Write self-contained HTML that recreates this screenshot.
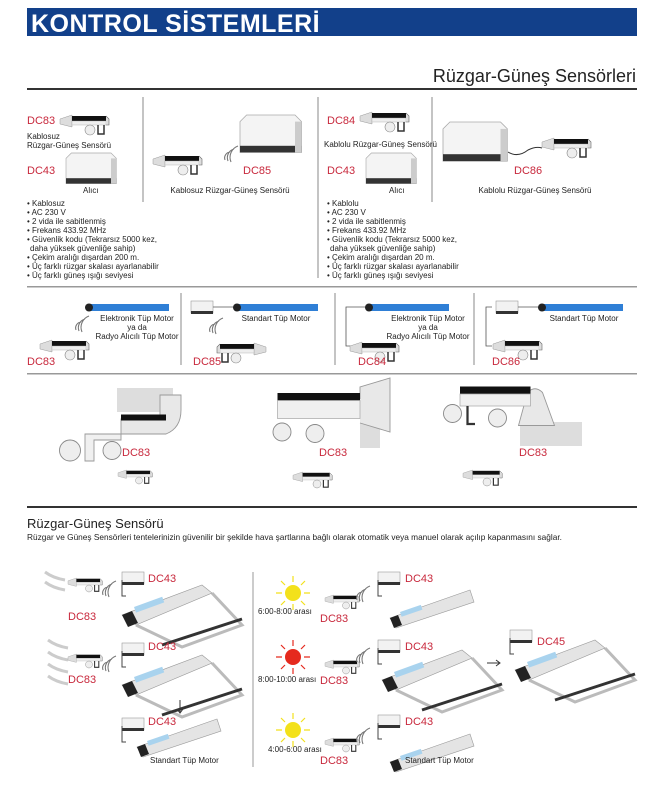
<!DOCTYPE html>
<html><head><meta charset="utf-8"><style>
body{margin:0;background:#fff}
svg{display:block}
text{font-family:"Liberation Sans",sans-serif}
.r{fill:#c8283c;font-size:11px}
.s{font-size:8px;fill:#222}
</style></head><body>
<svg width="662" height="798" viewBox="0 0 662 798" xmlns="http://www.w3.org/2000/svg">
<defs>
<g id="sen"><path d="M0,4 L12,0 L12,12 L0,9Z" fill="#ddd" stroke="#999" stroke-width=".5"/><rect x="12" y="1" width="34" height="5" fill="#111"/><rect x="12" y="6" width="34" height="4" fill="#eee" stroke="#aaa" stroke-width=".4"/><circle cx="30" cy="15" r="5" fill="#eee" stroke="#888" stroke-width=".6"/><path d="M38,10 v9 h6 v-9" fill="none" stroke="#333" stroke-width="1.5"/><path d="M46,1 l3,3 v6 h-3" fill="#ddd" stroke="#666" stroke-width=".6"/></g>
<g id="box"><path d="M0,6 L6,0 H50 L56,6 V34 H0Z" fill="#f4f4f4" stroke="#aaa" stroke-width=".7"/><rect x="0" y="28" width="56" height="6" fill="#333"/><rect x="50" y="6" width="6" height="28" fill="#ccc"/></g>
<g id="sbox"><rect x="0" y="0" width="22" height="12" fill="#f2f2f2" stroke="#999" stroke-width=".6"/><rect x="0" y="10" width="22" height="3" fill="#333"/></g>
<g id="wave"><path d="M0,10 a6,6 0 0 1 5,-8 M3,11 a9,9 0 0 1 6,-12 M6,12 a12,12 0 0 1 7,-16" fill="none" stroke="#777" stroke-width="1.1"/></g>
<g id="awn"><path d="M0,30 L80,0 L90,8 L14,40Z" fill="#e4e4e4" stroke="#999" stroke-width=".6"/><rect x="12" y="22" width="30" height="6" fill="#a9d3ee" transform="rotate(-20 12 22)"/><path d="M0,30 l10,-4 l6,12 l-10,4z" fill="#222"/><path d="M14,40 L60,62 L120,40 L90,8" fill="none" stroke="#bbb" stroke-width="3"/><path d="M40,60 L120,34" stroke="#333" stroke-width="3"/></g>
<g id="sun"><circle r="8" fill="currentColor"/><g stroke="currentColor" stroke-width="1.2"><path d="M0,-11v-6M0,11v6M-11,0h-6M11,0h6M8,-8l4,-4M-8,-8l-4,-4M8,8l4,4M-8,8l-4,4"/></g></g>
</defs>
<rect x="27" y="8" width="610" height="28" fill="#12408a"/>
<text x="31" y="32" fill="#fff" font-size="25" font-weight="bold" letter-spacing="0.5">KONTROL SİSTEMLERİ</text>
<text x="636" y="82" text-anchor="end" font-size="18" fill="#222">Rüzgar-Güneş Sensörleri</text>
<rect x="27" y="88" width="610" height="2" fill="#333"/>
<g stroke="#888" stroke-width="1"><path d="M143,97V202M318,97V278M432,97V202"/></g>
<use href="#sen" x="60" y="115"/>
<text class="r" x="27" y="124">DC83</text>
<text class="s" x="27" y="139">Kablosuz</text><text class="s" x="27" y="148">Rüzgar-Güneş Sensörü</text>
<g transform="translate(66 153) scale(.9)"><use href="#box"/></g>
<text class="r" x="27" y="174">DC43</text>
<text class="s" x="83" y="193">Alıcı</text>
<text class="s" x="27" y="206">• Kablosuz</text><text class="s" x="27" y="215">• AC 230 V</text><text class="s" x="27" y="224">• 2 vida ile sabitlenmiş</text><text class="s" x="27" y="233">• Frekans 433.92 MHz</text><text class="s" x="27" y="242">• Güvenlik kodu (Tekrarsız 5000 kez,</text><text class="s" x="30" y="251">daha yüksek güvenliğe sahip)</text><text class="s" x="27" y="260">• Çekim aralığı dışardan 200 m.</text><text class="s" x="27" y="269">• Üç farklı rüzgar skalası ayarlanabilir</text><text class="s" x="27" y="278">• Üç farklı güneş ışığı seviyesi</text>
<use href="#sen" x="153" y="155"/><use href="#wave" x="225" y="150"/>
<g transform="translate(240 115) scale(1.1)"><use href="#box"/></g>
<text class="r" x="243" y="174">DC85</text>
<text class="s" x="230" y="193" text-anchor="middle">Kablosuz Rüzgar-Güneş Sensörü</text>
<use href="#sen" x="360" y="112"/>
<text class="r" x="327" y="124">DC84</text>
<text class="s" x="324" y="147">Kablolu Rüzgar-Güneş Sensörü</text>
<g transform="translate(366 153) scale(.9)"><use href="#box"/></g>
<text class="r" x="327" y="174">DC43</text>
<text class="s" x="389" y="193">Alıcı</text>
<text class="s" x="327" y="206">• Kablolu</text><text class="s" x="327" y="215">• AC 230 V</text><text class="s" x="327" y="224">• 2 vida ile sabitlenmiş</text><text class="s" x="327" y="233">• Frekans 433.92 MHz</text><text class="s" x="327" y="242">• Güvenlik kodu (Tekrarsız 5000 kez,</text><text class="s" x="330" y="251">daha yüksek güvenliğe sahip)</text><text class="s" x="327" y="260">• Çekim aralığı dışardan 20 m.</text><text class="s" x="327" y="269">• Üç farklı rüzgar skalası ayarlanabilir</text><text class="s" x="327" y="278">• Üç farklı güneş ışığı seviyesi</text>
<g transform="translate(443 122) scale(1.15)"><use href="#box"/></g>
<path d="M508,152 q10,6 20,-2 q8,-4 14,-2" fill="none" stroke="#333"/>
<use href="#sen" x="542" y="138"/>
<text class="r" x="514" y="174">DC86</text>
<text class="s" x="535" y="193" text-anchor="middle">Kablolu Rüzgar-Güneş Sensörü</text>
<rect x="27" y="286" width="610" height="1.5" fill="#999"/>
<g stroke="#888"><path d="M181,293V365M335,293V365M474,293V365"/></g>
<g fill="#2f7fd6"><rect x="89" y="304" width="80" height="7"/><rect x="237" y="304" width="81" height="7"/><rect x="369" y="304" width="80" height="7"/><rect x="542" y="304" width="81" height="7"/></g>
<g fill="#222"><circle cx="89" cy="307.5" r="4"/><circle cx="237" cy="307.5" r="4"/><circle cx="369" cy="307.5" r="4"/><circle cx="542" cy="307.5" r="4"/></g>
<use href="#sbox" x="191" y="301"/><use href="#sbox" x="496" y="301"/>
<path d="M213,307H233M518,307H538M365,307H346V346H352M492,307H486V346H492" fill="none" stroke="#555" stroke-width=".8"/>
<use href="#sen" x="40" y="340"/><use href="#wave" x="76" y="320"/>
<g transform="translate(266 343) scale(-1 1)"><use href="#sen"/></g><use href="#wave" x="210" y="322"/>
<use href="#sen" x="350" y="342"/><use href="#sen" x="493" y="340"/>
<text class="s" x="137" y="321" text-anchor="middle">Elektronik Tüp Motor</text><text class="s" x="137" y="330" text-anchor="middle">ya da</text><text class="s" x="137" y="339" text-anchor="middle">Radyo Alıcılı Tüp Motor</text>
<text class="s" x="276" y="321" text-anchor="middle">Standart Tüp Motor</text>
<text class="s" x="428" y="321" text-anchor="middle">Elektronik Tüp Motor</text><text class="s" x="428" y="330" text-anchor="middle">ya da</text><text class="s" x="428" y="339" text-anchor="middle">Radyo Alıcılı Tüp Motor</text>
<text class="s" x="584" y="321" text-anchor="middle">Standart Tüp Motor</text>
<text class="r" x="27" y="365">DC83</text><text class="r" x="193" y="365">DC85</text><text class="r" x="358" y="365">DC84</text><text class="r" x="492" y="365">DC86</text>
<rect x="27" y="373" width="610" height="1.5" fill="#999"/>
<g fill="#ddd"><rect x="117" y="388" width="56" height="24"/><rect x="360" y="388" width="20" height="60"/><rect x="520" y="422" width="62" height="24"/></g>
<g transform="translate(55 395) scale(1.5)"><path d="M70,0 h14 v10 q0,12 -10,16 h-30 v-10 h26z" fill="#e8e8e8" stroke="#999" stroke-width=".6"/><rect x="44" y="13" width="30" height="4" fill="#111"/><circle cx="10" cy="37" r="7" fill="#eee" stroke="#888" stroke-width=".6"/><circle cx="38" cy="37" r="6" fill="#eee" stroke="#888" stroke-width=".6"/><path d="M20,26 h24 v4 h-18 v14 h-6z" fill="#f0f0f0" stroke="#999" stroke-width=".6"/></g>
<g transform="translate(270 390) scale(1.5)"><path d="M60,6 L60,-2 L80,-8 V28 L60,22" fill="#e8e8e8" stroke="#999" stroke-width=".6"/><rect x="5" y="2" width="55" height="5" fill="#111"/><rect x="5" y="7" width="55" height="12" fill="#f0f0f0" stroke="#aaa" stroke-width=".5"/><circle cx="30" cy="29" r="6" fill="#eee" stroke="#888" stroke-width=".6"/><circle cx="8" cy="28" r="6" fill="#eee" stroke="#888" stroke-width=".6"/></g>
<g transform="translate(445 385) scale(1.5)"><path d="M55,5 q5,-5 10,0 l8,22 h-24z" fill="#e8e8e8" stroke="#999" stroke-width=".6"/><rect x="10" y="1" width="47" height="5" fill="#111"/><rect x="10" y="6" width="47" height="8" fill="#f0f0f0" stroke="#aaa" stroke-width=".5"/><circle cx="35" cy="22" r="6" fill="#eee" stroke="#888" stroke-width=".6"/><circle cx="5" cy="19" r="6" fill="#eee" stroke="#888" stroke-width=".6"/><path d="M15,14 v12 h5" fill="none" stroke="#333" stroke-width="1.5"/></g>
<text class="r" x="122" y="456">DC83</text><text class="r" x="319" y="456">DC83</text><text class="r" x="519" y="456">DC83</text>
<g transform="translate(118 470) scale(.7)"><use href="#sen"/></g>
<g transform="translate(293 472) scale(.8)"><use href="#sen"/></g>
<g transform="translate(463 470) scale(.8)"><use href="#sen"/></g>
<rect x="27" y="506" width="610" height="2" fill="#333"/>
<text x="27" y="528" font-size="13" fill="#222">Rüzgar-Güneş Sensörü</text>
<text x="27" y="540" font-size="8.3" fill="#222">Rüzgar ve Güneş Sensörleri  tentelerinizin güvenilir bir şekilde hava şartlarına bağlı olarak otomatik veya manuel olarak açılıp kapanmasını sağlar.</text>
<path d="M253,572V767" stroke="#999"/>
<g fill="none" stroke="#ccc" stroke-width="3"><path d="M45,572 q8,6 20,8M45,582 q8,6 20,8M48,640 q8,6 20,8M48,652 q8,6 20,8M48,664 q8,6 20,8M48,676 q8,6 20,8"/></g>
<g transform="translate(68 578) scale(.7)"><use href="#sen"/></g><use href="#wave" x="103" y="585"/>
<g transform="translate(68 654) scale(.7)"><use href="#sen"/></g><use href="#wave" x="103" y="660"/>
<use href="#sbox" x="122" y="572"/><use href="#sbox" x="122" y="643"/><use href="#sbox" x="122" y="718"/>
<use href="#awn" x="122" y="585"/><use href="#awn" x="122" y="655"/>
<path d="M122,580v16h4M122,651v16h4M122,726v16h4" fill="none" stroke="#444"/>
<g transform="translate(137 727)"><path d="M0,20 L80,-8 L84,4 L6,30Z" fill="#e4e4e4" stroke="#999" stroke-width=".6"/><path d="M0,20 l8,-3 l4,10 l-8,3z" fill="#222"/><rect x="10" y="14" width="22" height="5" fill="#a9d3ee" transform="rotate(-19 10 14)"/></g>
<path d="M180,700v12M177,709l3,4 3,-4" fill="none" stroke="#333"/>
<text class="r" x="148" y="582">DC43</text><text class="r" x="68" y="620">DC83</text>
<text class="r" x="148" y="650">DC43</text><text class="r" x="68" y="683">DC83</text>
<text class="r" x="148" y="725">DC43</text>
<text class="s" x="150" y="763">Standart Tüp Motor</text>
<use href="#sun" x="293" y="593" color="#f3e11b"/><use href="#sun" x="293" y="657" color="#e52a1e"/><use href="#sun" x="293" y="730" color="#f3e11b"/>
<text class="s" x="258" y="614">6:00-8:00 arası</text><text class="s" x="258" y="682">8:00-10:00 arası</text><text class="s" x="268" y="752">4:00-6:00 arası</text>
<g transform="translate(325 595) scale(.7)"><use href="#sen"/></g><use href="#wave" x="357" y="590"/>
<g transform="translate(325 660) scale(.7)"><use href="#sen"/></g><use href="#wave" x="357" y="652"/>
<g transform="translate(325 738) scale(.7)"><use href="#sen"/></g><use href="#wave" x="357" y="732"/>
<use href="#sbox" x="378" y="572"/><use href="#sbox" x="378" y="640"/><use href="#sbox" x="378" y="715"/><use href="#sbox" x="510" y="630"/>
<path d="M378,580v16h4M378,648v16h4M378,723v16h4M510,638v16h4" fill="none" stroke="#444"/>
<g transform="translate(390 598)"><path d="M0,20 L80,-8 L84,4 L6,30Z" fill="#e4e4e4" stroke="#999" stroke-width=".6"/><path d="M0,20 l8,-3 l4,10 l-8,3z" fill="#222"/><rect x="10" y="14" width="22" height="5" fill="#a9d3ee" transform="rotate(-19 10 14)"/></g>
<use href="#awn" x="382" y="650"/><use href="#awn" x="515" y="640"/>
<g transform="translate(390 742)"><path d="M0,20 L80,-8 L84,4 L6,30Z" fill="#e4e4e4" stroke="#999" stroke-width=".6"/><path d="M0,20 l8,-3 l4,10 l-8,3z" fill="#222"/><rect x="10" y="14" width="22" height="5" fill="#a9d3ee" transform="rotate(-19 10 14)"/></g>
<path d="M487,663h12M496,660l4,3 -4,3" fill="none" stroke="#333"/>
<text class="r" x="405" y="582">DC43</text><text class="r" x="320" y="622">DC83</text>
<text class="r" x="405" y="650">DC43</text><text class="r" x="320" y="684">DC83</text>
<text class="r" x="537" y="645">DC45</text>
<text class="r" x="405" y="725">DC43</text><text class="r" x="320" y="764">DC83</text>
<text class="s" x="405" y="763">Standart Tüp Motor</text>
</svg>
</body></html>
